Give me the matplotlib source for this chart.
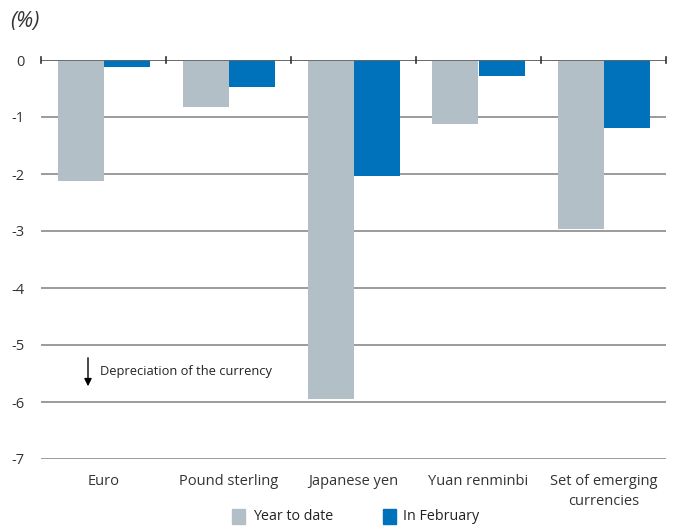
import matplotlib
matplotlib.use("Agg")
import matplotlib.pyplot as plt
import numpy as np
from matplotlib.patches import Rectangle

categories = ["Euro", "Pound sterling", "Japanese yen", "Yuan renminbi", "Set of emerging\ncurrencies"]
year_to_date = [-2.12, -0.82, -5.95, -1.13, -2.97]
in_february = [-0.12, -0.48, -2.03, -0.28, -1.19]
yticks = [0, -1, -2, -3, -4, -5, -6, -7]

gray = "#b3bfc6"
blue = "#0071bb"
plt.rcParams['font.family'] = ['Open Sans', 'DejaVu Sans']

fig = plt.figure(figsize=(6.75, 5.27), dpi=100)
ax = fig.add_axes([41/675, 1-459/527, (666-41)/675, (459-60)/527])

x = np.arange(len(categories))
w = 0.368
ax.bar(x - w/2, year_to_date, width=w, color=gray, zorder=3)
ax.bar(x + w/2, in_february, width=w, color=blue, zorder=3)

ax.set_xlim(-0.5, len(categories) - 0.5)
ax.set_ylim(-7, 0)
ax.set_yticks(yticks)
ax.set_yticklabels([str(v) for v in yticks], fontsize=10.5, color="#333333")
ax.tick_params(axis='y', length=0, pad=12)
for v in yticks:
    ax.axhline(v, color="#8a8a8a", lw=1.2, zorder=1)
ax.axhline(0, color="#666666", lw=1.3, zorder=4)

ax.set_xticks(x)
ax.set_xticklabels(categories, fontsize=10.5, color="#333333", va='top', linespacing=1.45)
ax.tick_params(axis='x', length=0, pad=11)
for s in ax.spines.values():
    s.set_visible(False)

# small ticks on zero line at category boundaries
for b in np.arange(-0.5, len(categories), 1.0):
    ax.plot([b, b], [0.06, -0.06], color="#333333", lw=1.2, zorder=5, clip_on=False)

ax.annotate("", xy=(88/675, 1-389/527), xytext=(88/675, 1-355/527), xycoords='figure fraction',
            arrowprops=dict(arrowstyle='-|>', color='black', lw=1.0, mutation_scale=11))
fig.text(100/675, 1-372/527, "Depreciation of the currency", fontsize=9.3, va='center', ha='left', color="#222222")

fig.text(10/675, 1-22/527, "(%)", fontsize=15.5, style='italic', va='center', ha='left', color="#333333")

# legend
fig.patches.append(Rectangle((232/675, 1-524/527), 13/675, 15/527, transform=fig.transFigure, color=gray, figure=fig))
fig.text(253/675, 1-516/527, "Year to date", fontsize=10.3, va='center', ha='left', color="#222222")
fig.patches.append(Rectangle((383/675, 1-524/527), 13/675, 15/527, transform=fig.transFigure, color=blue, figure=fig))
fig.text(403/675, 1-516/527, "In February", fontsize=10.3, va='center', ha='left', color="#222222")

fig.savefig("out.png", dpi=100)
